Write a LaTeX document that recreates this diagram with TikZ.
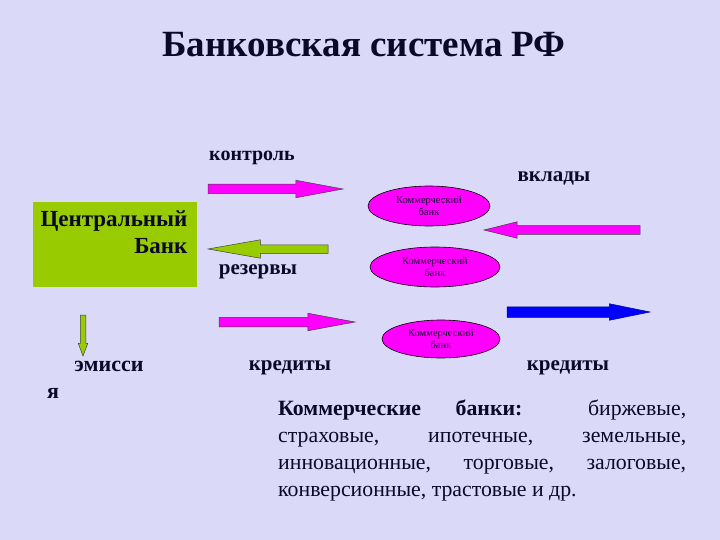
\documentclass[tikz,border=0pt]{standalone}
\usepackage{fontspec}
\setmainfont{Liberation Serif}
\newfontfamily\tnr{Liberation Serif}
\usetikzlibrary{shapes.geometric,shapes.arrows}
\definecolor{bg}{RGB}{218,218,248}
\definecolor{cbgreen}{RGB}{153,204,0}
\definecolor{pinkarr}{RGB}{255,0,255}
\definecolor{bluearr}{RGB}{0,0,255}
\definecolor{txt}{RGB}{10,10,40}

\begin{document}
\begin{tikzpicture}[x=1pt,y=-1pt,
  lbl/.style={font=\tnr\fontsize{21}{25}\selectfont\bfseries,text=txt,inner sep=0pt},
  blk/.style={single arrow,draw=black!75,line width=0.5pt,inner xsep=0pt,minimum width=0pt,
    single arrow head indent=0pt,anchor=tail,outer sep=0pt},
  bank/.style={ellipse,draw=black,line width=0.6pt,fill=pinkarr,inner sep=0pt,align=center,
    font=\tnr\fontsize{10.5}{11.5}\selectfont,text=txt},
  cbbox/.style={fill=cbgreen,minimum width=164,minimum height=85,inner sep=0pt}]
\useasboundingbox[fill=bg] (0,0) rectangle (720,540);
\node[lbl,font=\tnr\fontsize{37}{40}\selectfont\bfseries] (title) at (364,45) {Банковская система РФ};

\node[cbbox] (cb) at (115,244.5) {};
\node[lbl,align=right,font=\tnr\fontsize{23}{27}\selectfont\bfseries] (cbtext) at (114,232) {Центральный\\Банк\hspace{15pt}};

\node[bank,minimum width=122,minimum height=40] (kb1) at (429,206) {Коммерческий\\банк};
\node[bank,minimum width=130,minimum height=40] (kb2) at (435,267) {Коммерческий\\банк};
\node[bank,minimum width=118,minimum height=38] (kb3) at (441,339) {Коммерческий\\банк};

\node[blk,fill=pinkarr,minimum height=135,inner ysep=4.5,single arrow head extend=4,single arrow tip angle=21] (ctrlarr) at (208,189) {};
\node[blk,fill=pinkarr,minimum height=156,inner ysep=4,single arrow head extend=4,single arrow tip angle=28,rotate=180] (depoarr) at (640,230) {};
\node[blk,fill=cbgreen,minimum height=120,inner ysep=4,single arrow head extend=5,single arrow tip angle=20,rotate=180] (resarr) at (328,249) {};
\node[blk,fill=pinkarr,minimum height=136,inner ysep=4.5,single arrow head extend=4,single arrow tip angle=21] (credarr) at (219,322) {};
\node[blk,fill=bluearr,draw=bluearr!60!black,minimum height=143,inner ysep=5,single arrow head extend=3,single arrow tip angle=23] (bluecred) at (507,312) {};
\node[blk,fill=cbgreen,minimum height=41,inner ysep=2.5,single arrow head extend=2,single arrow tip angle=41,rotate=-90] (emarr) at (83,315) {};

\node[lbl,font=\tnr\fontsize{20}{24}\selectfont\bfseries] (ctrl) at (252,158) {контроль};
\node[lbl] (depo) at (554,178) {вклады};
\node[lbl] (res) at (258,272) {резервы};
\node[lbl,font=\tnr\fontsize{22}{25}\selectfont\bfseries] (em1) at (109,366) {эмисси};
\node[lbl,font=\tnr\fontsize{22}{25}\selectfont\bfseries] (em2) at (53,393) {я};
\node[lbl] (cred1) at (290,368) {кредиты};
\node[lbl] (cred2) at (568,368) {кредиты};

\node[anchor=north west,text width=408,align=justify,inner sep=0pt,
  font=\tnr\fontsize{21.8}{27}\selectfont,text=txt] (types) at (278,400)
  {\textbf{Коммерческие банки:} биржевые,\linebreak страховые, ипотечные, земельные,\linebreak инновационные, торговые, залоговые,\linebreak конверсионные, трастовые и др.};
\end{tikzpicture}
\end{document}
